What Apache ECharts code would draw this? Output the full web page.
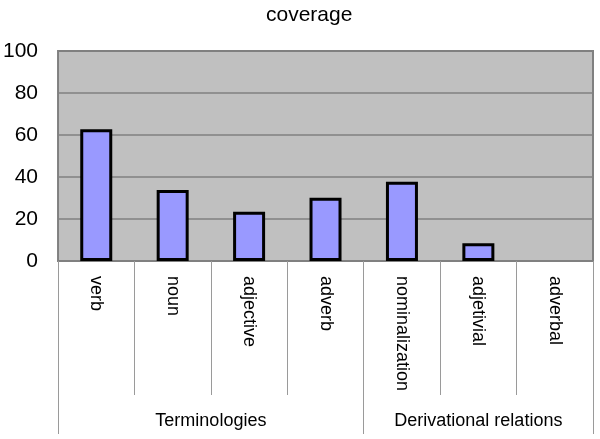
<!DOCTYPE html>
<html>
<head>
<meta charset="utf-8">
<script src="https://cdn.jsdelivr.net/npm/echarts@6/dist/echarts.min.js"></script>
<style>html,body{margin:0;padding:0;background:#fff}#c{width:600px;height:439px}</style>
</head>
<body>
<div id="c"></div>
<script>
const categories = ['verb','noun','adjective','adverb','nominalization','adjetivial','adverbal'];
const coverage = [62.7, 33.8, 23.5, 30.1, 37.7, 8.4, 0];
const groupNames = ['Terminologies','Derivational relations'];
const groupBounds = [0, 4, 7];
const yTicks = [0, 20, 40, 60, 80, 100];

const groupCenters = groupNames.map((g, i) => (groupBounds[i] + groupBounds[i + 1]) / 2);
const FONT = '"Liberation Sans", Arial, sans-serif';

const barData = coverage.map(v => v > 0 ? v : {value: v, itemStyle: {borderWidth: 0, color: 'transparent'}});

const chart = echarts.init(document.getElementById('c'), null, {renderer: 'canvas'});
chart.setOption({
  animation: false,
  backgroundColor: '#ffffff',
  title: {
    text: 'coverage',
    left: 261, top: 0,
    textStyle: {fontFamily: FONT, fontSize: 21, fontWeight: 'normal', color: '#000'}
  },
  grid: {
    left: 55, right: 7, top: 51, bottom: 178,
    show: true, backgroundColor: '#C0C0C0', borderColor: '#808080', borderWidth: 2,
    containLabel: false
  },
  xAxis: [{
    type: 'category',
    data: categories,
    boundaryGap: true,
    axisLine: {show: true, lineStyle: {color: '#808080', width: 2}},
    axisTick: {show: true, interval: 0, length: 134, lineStyle: {color: '#9a9a9a', width: 1}},
    axisLabel: {
      interval: 0, rotate: -90, margin: 15, color: '#000',
      fontFamily: FONT, fontSize: 18
    },
    splitLine: {show: false}
  }, {
    type: 'value',
    position: 'bottom',
    offset: 134,
    min: groupBounds[0], max: groupBounds[groupBounds.length - 1],
    axisLine: {show: false},
    axisTick: {show: true, customValues: groupBounds, length: 39, lineStyle: {color: '#9a9a9a', width: 1}},
    axisLabel: {
      customValues: groupCenters,
      formatter: function (v) {
        const i = groupCenters.indexOf(v);
        return i >= 0 ? groupNames[i] : '';
      },
      margin: 17, color: '#000', fontFamily: FONT, fontSize: 18
    },
    splitLine: {show: false}
  }],
  yAxis: {
    type: 'value',
    min: yTicks[0], max: yTicks[yTicks.length - 1], interval: 20,
    axisLine: {show: false},
    axisTick: {show: false},
    axisLabel: {color: '#000', fontFamily: FONT, fontSize: 21, margin: 20},
    splitLine: {show: true, lineStyle: {color: '#808080', width: 1.5}}
  },
  series: [{
    type: 'bar',
    xAxisIndex: 0,
    data: barData,
    barWidth: 32,
    itemStyle: {color: '#9999FF', borderColor: '#000', borderWidth: 3}
  }]
});
</script>
</body>
</html>
